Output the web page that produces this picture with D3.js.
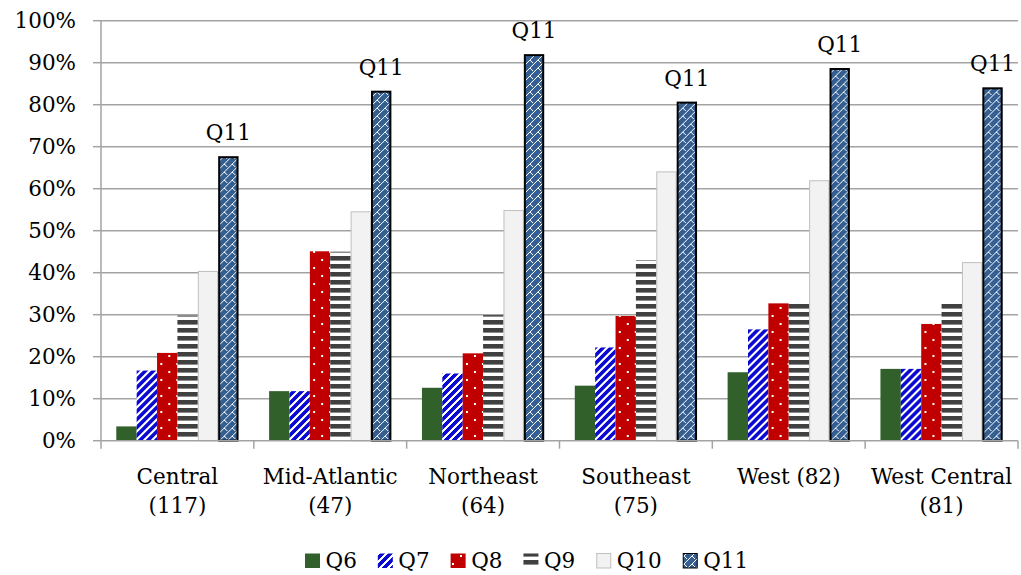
<!DOCTYPE html>
<html>
<head>
<meta charset="utf-8">
<script src="https://cdn.jsdelivr.net/npm/d3@7/dist/d3.min.js"></script>
<style>
  html, body { margin: 0; padding: 0; background: #fff; }
  svg { display: block; }
  text { font-family: "DejaVu Serif", serif; fill: #000; }
</style>
</head>
<body>
<svg id="chart" width="1021" height="575"></svg>
<script>
// Regions and their sample sizes
const regions = ["Central", "Mid-Atlantic", "Northeast", "Southeast", "West", "West Central"];
const regionLabels = [["Central", "(117)"], ["Mid-Atlantic", "(47)"], ["Northeast", "(64)"],
                      ["Southeast", "(75)"], ["West (82)"], ["West Central", "(81)"]];

// Share of respondents (%) per question
const seriesNames = ["Q6", "Q7", "Q8", "Q9", "Q10", "Q11"];
const q6  = [3.4, 11.8, 12.6, 13.1, 16.3, 17.1];
const q7  = [16.7, 11.8, 16.0, 22.2, 26.5, 17.1];
const q8  = [20.9, 45.1, 20.8, 29.7, 32.7, 27.8];
const q9  = [29.8, 45.0, 29.9, 43.0, 32.7, 33.1];
const q10 = [40.3, 54.5, 54.8, 64.0, 61.9, 42.4];
const q11 = [67.5, 83.1, 91.8, 80.5, 88.5, 83.9];
const yTicks = [0, 10, 20, 30, 40, 50, 60, 70, 80, 90, 100];

const seriesValues = [q6, q7, q8, q9, q10, q11];

const svg = d3.select("#chart");
const FONT = 21.5;
const plotLeft = 101, plotRight = 1018, plotTop = 20.7, plotBottom = 440.7;
const gridColor = "#a3a3a3";

// ---- fill patterns ----
const defs = svg.append("defs");

// Q7: blue upward diagonal stripes
const p7 = defs.append("pattern").attr("id", "pat-q7").attr("patternUnits", "userSpaceOnUse")
  .attr("width", 8).attr("height", 8);
p7.append("rect").attr("width", 8).attr("height", 8).attr("fill", "#fff");
p7.append("path").attr("d", "M-2,2 L2,-2 M0,8 L8,0 M6,10 L10,6")
  .attr("stroke", "#0a0ad2").attr("stroke-width", 3.2).attr("shape-rendering", "crispEdges");

// Q8: red with sparse white dots
const p8 = defs.append("pattern").attr("id", "pat-q8").attr("patternUnits", "userSpaceOnUse")
  .attr("width", 16).attr("height", 16);
p8.append("rect").attr("width", 16).attr("height", 16).attr("fill", "#c00000");
p8.append("rect").attr("x", 4).attr("y", 3).attr("width", 2).attr("height", 2).attr("fill", "#fff");
p8.append("rect").attr("x", 12).attr("y", 11).attr("width", 2).attr("height", 2).attr("fill", "#fff");

// Q9: dark horizontal stripes
const p9 = defs.append("pattern").attr("id", "pat-q9").attr("patternUnits", "userSpaceOnUse")
  .attr("width", 8).attr("height", 8);
p9.append("rect").attr("width", 8).attr("height", 8).attr("fill", "#fff");
p9.append("rect").attr("y", 0).attr("width", 8).attr("height", 4.6).attr("fill", "#404040");

// Q11: blue with white diagonal trellis
const p11 = defs.append("pattern").attr("id", "pat-q11").attr("patternUnits", "userSpaceOnUse")
  .attr("width", 8).attr("height", 8);
p11.append("rect").attr("width", 8).attr("height", 8).attr("fill", "#365f91");
p11.append("path").attr("d", "M0,8 L8,0 M4,4 L7,7")
  .attr("stroke", "#fff").attr("stroke-width", 1).attr("fill", "none")
  .attr("shape-rendering", "crispEdges");

const styles = [
  { fill: "#31602a", stroke: "none", sw: 0 },
  { fill: "url(#pat-q7)", stroke: "none", sw: 0 },
  { fill: "url(#pat-q8)", stroke: "none", sw: 0 },
  { fill: "url(#pat-q9)", stroke: "none", sw: 0 },
  { fill: "#f2f2f2", stroke: "#bfbfbf", sw: 1 },
  { fill: "url(#pat-q11)", stroke: "#000", sw: 2 }
];

// ---- scales ----
const x0 = d3.scaleBand().domain(regions).range([plotLeft, plotRight]).paddingInner(0.2).paddingOuter(0.1);
const x1 = d3.scaleBand().domain(seriesNames).range([0, x0.bandwidth()]);
const y = d3.scaleLinear().domain([0, 100]).range([plotBottom, plotTop]);
const step = x0.step();

// ---- gridlines ----
svg.append("g").selectAll("line").data(yTicks.filter(t => t > 0)).join("line")
  .attr("x1", plotLeft).attr("x2", plotRight)
  .attr("y1", d => y(d)).attr("y2", d => y(d))
  .attr("stroke", gridColor).attr("stroke-width", 1.5);

// ---- y axis ----
const yAxis = svg.append("g");
yAxis.append("line").attr("x1", plotLeft).attr("x2", plotLeft).attr("y1", plotTop).attr("y2", plotBottom)
  .attr("stroke", gridColor).attr("stroke-width", 1.5);
yAxis.selectAll("line.tick").data(yTicks).join("line").attr("class", "tick")
  .attr("x1", plotLeft - 8).attr("x2", plotLeft)
  .attr("y1", d => y(d)).attr("y2", d => y(d))
  .attr("stroke", gridColor).attr("stroke-width", 1.5);
yAxis.selectAll("text").data(yTicks).join("text")
  .attr("x", 76).attr("y", d => y(d) + 7.5)
  .attr("text-anchor", "end").attr("font-size", FONT)
  .text(d => d + "%");

// ---- bars ----
const groups = svg.append("g").selectAll("g").data(regions).join("g")
  .attr("transform", d => `translate(${x0(d)},0)`);

groups.selectAll("rect").data((r, i) => seriesNames.map((s, k) => ({ s, k, v: seriesValues[k][i] })))
  .join("rect")
  .attr("x", d => x1(d.s) + (styles[d.k].sw ? styles[d.k].sw / 2 : 0))
  .attr("y", d => y(d.v))
  .attr("width", d => x1.bandwidth() - (styles[d.k].sw || 0))
  .attr("height", d => plotBottom - y(d.v))
  .attr("fill", d => styles[d.k].fill)
  .attr("stroke", d => styles[d.k].stroke)
  .attr("stroke-width", d => styles[d.k].sw);

// Q11 labels above the tallest series
groups.append("text")
  .attr("x", x1("Q11") + x1.bandwidth() / 2)
  .attr("y", (r, i) => y(q11[i]) - 17)
  .attr("text-anchor", "middle").attr("font-size", FONT)
  .text("Q11");

// ---- x axis ----
const xAxis = svg.append("g");
xAxis.append("line").attr("x1", plotLeft).attr("x2", plotRight).attr("y1", plotBottom).attr("y2", plotBottom)
  .attr("stroke", gridColor).attr("stroke-width", 1.5);
xAxis.selectAll("line.tick").data(d3.range(regions.length + 1)).join("line").attr("class", "tick")
  .attr("x1", i => plotLeft + i * step).attr("x2", i => plotLeft + i * step)
  .attr("y1", plotBottom).attr("y2", plotBottom + 8)
  .attr("stroke", gridColor).attr("stroke-width", 1.5);
xAxis.selectAll("text").data(regions).join("text")
  .attr("text-anchor", "middle").attr("font-size", FONT)
  .attr("transform", d => `translate(${x0(d) + x0.bandwidth() / 2},0)`)
  .each(function (d, i) {
    d3.select(this).selectAll("tspan").data(regionLabels[i]).join("tspan")
      .attr("x", 0).attr("y", (t, j) => 484 + j * 29).text(t => t);
  });

// ---- legend ----
const legend = svg.append("g");
let lx = 305;
seriesNames.forEach((name, k) => {
  const st = styles[k];
  legend.append("rect")
    .attr("x", lx + (st.sw ? 0.5 : 0)).attr("y", 553.5)
    .attr("width", 15 - (st.sw ? 1 : 0)).attr("height", 14.5)
    .attr("fill", st.fill).attr("stroke", st.stroke).attr("stroke-width", st.sw ? 1 : 0);
  const t = legend.append("text").attr("x", lx + 20.5).attr("y", 568)
    .attr("font-size", FONT).text(name);
  lx += 20.5 + t.node().getComputedTextLength() + 21;
});
</script>
</body>
</html>
